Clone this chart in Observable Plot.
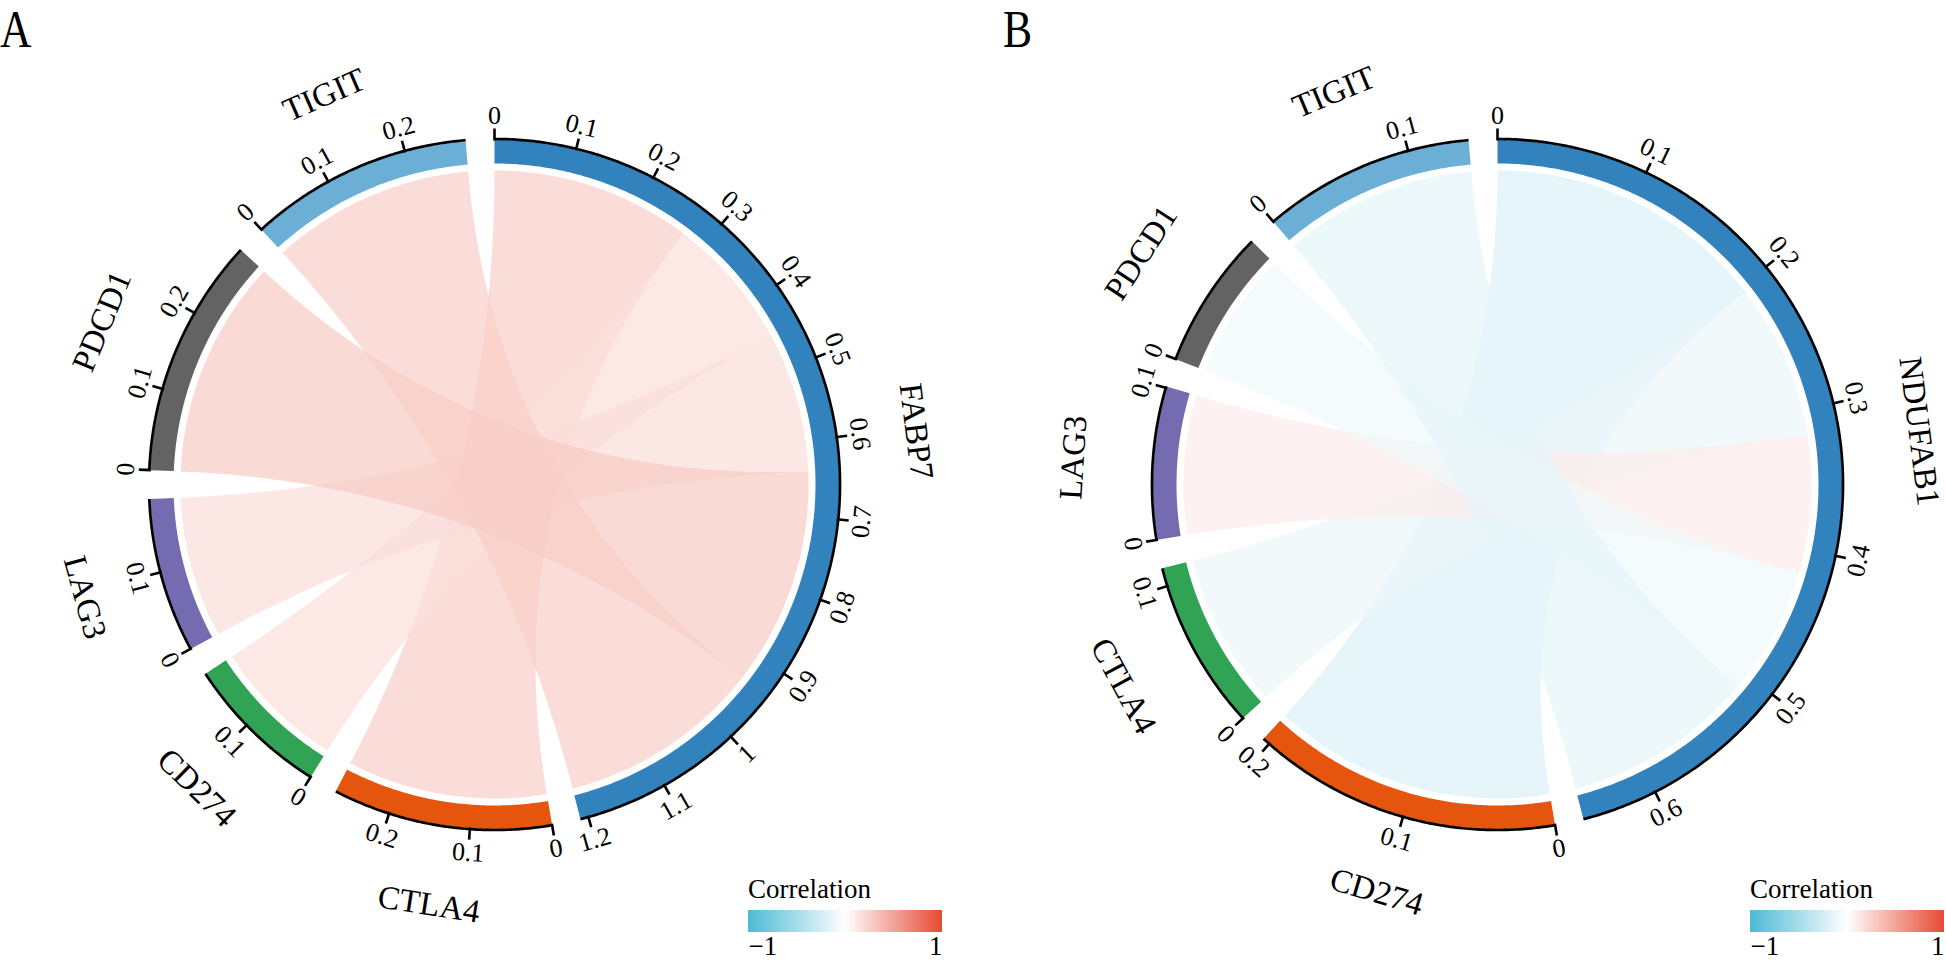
<!DOCTYPE html>
<html><head><meta charset="utf-8">
<script src="https://cdn.jsdelivr.net/npm/d3@7"></script>
<script src="https://cdn.jsdelivr.net/npm/@observablehq/plot@0.6"></script>
<style>
html,body{margin:0;padding:0;background:#fff;overflow:hidden;}
#root{position:relative;width:1946px;height:962px;font-family:"Liberation Serif",serif;overflow:hidden;}
.abs{position:absolute;top:0;}
.letter{position:absolute;top:0;font-size:52px;line-height:1.15;color:#000;font-family:"Liberation Serif",serif;transform:scale(0.84,1);transform-origin:left top;}
.legend svg text{font-weight:normal !important;}
.legend .tick line{display:none;}
</style></head><body><div id="root"></div>
<script>
// ---------------- data ----------------
const hubA = "FABP7";
const partnersA = ["CTLA4", "CD274", "LAG3", "PDCD1", "TIGIT"];
const corrA = [0.27, 0.18, 0.19, 0.295, 0.275];

const hubB = "NDUFAB1";
const partnersB = ["CD274", "CTLA4", "LAG3", "PDCD1", "TIGIT"];
const corrB = [-0.205, -0.112, 0.101, -0.092, -0.14];

const sectorColors = ["#3182BD", "#E6550D", "#31A354", "#756BB1", "#636363", "#6BAED6"];
const corrDomain = [-1, 0, 1];
const corrColors = ["#4DBBD5", "#FFFFFF", "#E64B35"];
const legendTicks = [-1, 1];
const panelLetters = ["A", "B"];

// ---------------- geometry helpers ----------------
const GAP = 4.8;
const R = {link: 314, trackIn: 321, trackOut: 344.5, axis: 345.5, tick: 356, tickLabel: 369, name: 425};
const FONT = "Liberation Serif";
const rad = d => d * Math.PI / 180;
const pt = (deg, r) => [r * Math.sin(rad(deg)), r * Math.cos(rad(deg))];
function arc(a0, a1, r) {
  const n = Math.max(2, Math.ceil(Math.abs(a1 - a0) / 0.5));
  return d3.range(n + 1).map(i => pt(a0 + (a1 - a0) * i / n, r));
}
function bez(p0, p2, n = 60) { // quadratic Bezier with control point at centre
  return d3.range(1, n).map(i => { const t = i / n, u = 1 - t; return [u * u * p0[0] + t * t * p2[0], u * u * p0[1] + t * t * p2[1]]; });
}
function niceRot(deg) {
  const d = ((deg % 360) + 360) % 360;
  if (d > 90 && d < 270) return d - 180;
  if (d >= 270) return d - 360;
  return d;
}
function layout(hub, partners, corr) {
  const w = corr.map(Math.abs);
  const total = d3.sum(w);
  const names = [hub, ...partners];
  const vals = [total, ...w];
  const unit = (360 - GAP * names.length) / (2 * total);
  let a = 0;
  const sectors = names.map((name, i) => {
    const s = {name, value: vals[i], a0: a, a1: a + vals[i] * unit, color: sectorColors[i]};
    a = s.a1 + GAP; return s;
  });
  let cum = 0;
  const links = partners.map((p, i) => {
    const h0 = cum * unit; cum += w[i]; const h1 = cum * unit;
    const s = sectors[i + 1];
    return {id: p, corr: corr[i], h0, h1, p0: s.a0, p1: s.a1};
  });
  return {sectors, links, unit};
}

function chord(hub, partners, corr, width, xmin) {
  const {sectors, links, unit} = layout(hub, partners, corr);
  const linkPts = links.flatMap(l => {
    const poly = [
      ...arc(l.h0, l.h1, R.link),
      ...bez(pt(l.h1, R.link), pt(l.p0, R.link)),
      ...arc(l.p0, l.p1, R.link),
      ...bez(pt(l.p1, R.link), pt(l.h0, R.link))
    ];
    return poly.map(([x, y]) => ({id: l.id, corr: l.corr, x, y}));
  });
  const trackMarks = sectors.map(s => {
    const poly = [...arc(s.a0, s.a1, R.trackOut), ...arc(s.a1, s.a0, R.trackIn)].map(([x, y]) => ({x, y}));
    return Plot.line(poly, {x: "x", y: "y", fill: s.color, stroke: "none"});
  });
  const axisPts = sectors.flatMap(s => arc(s.a0, s.a1, R.axis).map(([x, y]) => ({name: s.name, x, y})));
  const ticks = sectors.flatMap(s => {
    const out = [];
    for (let k = 0; k * 0.1 <= s.value + 1e-9; k++) {
      const th = s.a0 + k * 0.1 * unit;
      const [x1, y1] = pt(th, R.trackOut - 0.5);
      const [x2, y2] = pt(th, R.tick);
      const [lx, ly] = pt(th, R.tickLabel);
      out.push({x1, y1, x2, y2, lx, ly, rot: niceRot(th), label: String(Math.round(k) / 10)});
    }
    return out;
  });
  const names = sectors.map(s => {
    const m = (s.a0 + s.a1) / 2;
    const [x, y] = pt(m, R.name);
    return {name: s.name, x, y, rot: niceRot(m)};
  });
  return Plot.plot({
    width, height: 962, margin: 0,
    x: {domain: [xmin, xmin + width], axis: null},
    y: {domain: [-478, 484], axis: null},
    color: {type: "linear", domain: corrDomain, range: corrColors, interpolate: "rgb"},
    style: {background: "transparent", overflow: "visible"},
    marks: [
      Plot.line(linkPts, {x: "x", y: "y", z: "id", fill: "corr", fillOpacity: 0.7, stroke: "none"}),
      ...trackMarks,
      Plot.line(axisPts, {x: "x", y: "y", z: "name", stroke: "black", strokeWidth: 2.7, strokeLinecap: "butt"}),
      Plot.link(ticks, {x1: "x1", y1: "y1", x2: "x2", y2: "y2", stroke: "black", strokeWidth: 2.6}),
      Plot.text(ticks, {x: "lx", y: "ly", text: "label", rotate: "rot", fontSize: 26, fontFamily: FONT, fill: "black"}),
      Plot.text(names, {x: "x", y: "y", text: "name", rotate: "rot", fontSize: 33, fontFamily: FONT, fill: "black"})
    ]
  });
}

function legend() {
  const mt = 30, mb = 32, ml = 12, mr = 12;
  const leg = Plot.legend({
    color: {type: "linear", domain: corrDomain, range: corrColors, interpolate: "rgb"},
    label: "Correlation", ticks: legendTicks, tickSize: 1, tickFormat: d3.format("d"),
    width: 194 + ml + mr, height: mt + 22 + mb, marginTop: mt, marginBottom: mb, marginLeft: ml, marginRight: mr,
    style: {fontFamily: FONT, fontSize: "27px", color: "black", background: "transparent", overflow: "visible"}
  });
  const tickTexts = leg.querySelectorAll(".tick text");
  if (tickTexts.length) {
    tickTexts[0].setAttribute("text-anchor", "start");
    tickTexts[tickTexts.length - 1].setAttribute("text-anchor", "end");
  }
  leg.querySelectorAll("text").forEach(t => {
    if (!t.closest(".tick") && t.textContent === "Correlation") t.setAttribute("y", mt - 12);
  });
  return leg;
}

// ---------------- page ----------------
const root = document.getElementById("root");
function place(node, left, top, w) {
  const d = document.createElement("div");
  d.className = "abs"; d.style.left = left + "px"; d.style.top = top + "px";
  if (w) d.style.width = w + "px";
  d.appendChild(node); root.appendChild(d); return d;
}
place(chord(hubA, partnersA, corrA, 988, -494), 0, 0, 988);
place(chord(hubB, partnersB, corrB, 943, -494), 1003, 0, 943);
place(legend(), 736, 880, 218).classList.add("legend");
place(legend(), 1738, 880, 218).classList.add("legend");
panelLetters.forEach((t, i) => {
  const d = document.createElement("div");
  d.className = "letter"; d.textContent = t;
  d.style.left = (i === 0 ? 0 : 1003) + "px";
  root.appendChild(d);
});
</script></body></html>
